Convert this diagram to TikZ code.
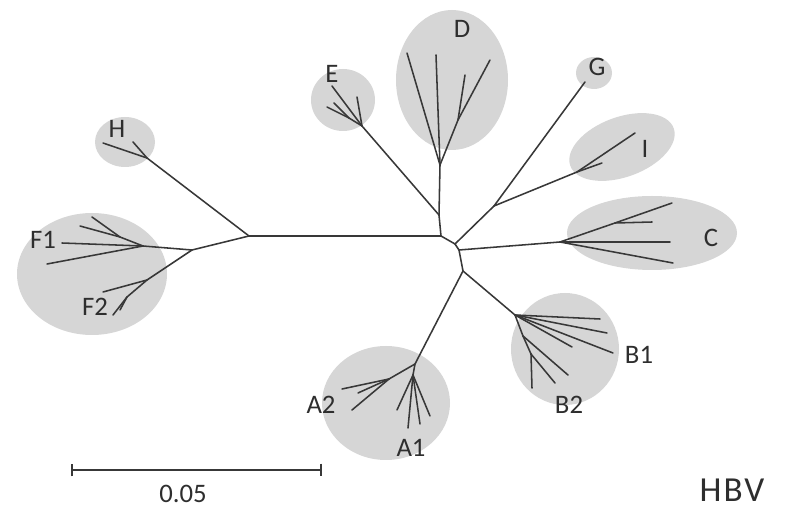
\documentclass[tikz,border=0pt]{standalone}
\usepackage{fontspec}
\setmainfont{Carlito}
\usetikzlibrary{positioning}
\usetikzlibrary{arrows.meta}

\begin{document}
\begin{tikzpicture}
			[x=0.025cm,y=-0.025cm,
			 pt/.style={coordinate},
			 clade/.style={fill=black!16},
			 connect/.style={draw=black!78,line width=1.1pt,line cap=round},
			 scalebar/.style={draw=black!78,line width=1.2pt,{Bar[width=9pt]}-{Bar[width=9pt]}},
			 tag/.style={inner sep=0pt,text=black!82,font=\fontsize{19}{19}\selectfont}]
			\useasboundingbox (0,0) rectangle (792,511);

			% shaded groups
			\fill[clade] (92,274) ellipse [x radius=75,y radius=61];
			\fill[clade] (125,142) ellipse [x radius=30,y radius=25];
			\fill[clade] (343,100) ellipse [x radius=32,y radius=31];
			\fill[clade] (452,80) ellipse [x radius=56,y radius=70];
			\fill[clade] (594,73) ellipse [x radius=18,y radius=16];
			\fill[clade,rotate around={20:(622,147)}] (622,147) ellipse [x radius=55,y radius=30];
			\fill[clade] (652,233) ellipse [x radius=85,y radius=37];
			\fill[clade] (565,349) ellipse [x radius=54,y radius=56];
			\fill[clade] (386,403) ellipse [x radius=64,y radius=57];

			% backbone
			\node[pt] (r1) at (249,236) {};
			\node[pt] (r2) at (441,236) {}
			  edge [connect] (r1);
			\node[pt] (r3) at (455,244) {}
			  edge [connect] (r2);
			\node[pt] (r4) at (459,250) {}
			  edge [connect] (r3);
			\node[pt] (r5) at (463,271) {}
			  edge [connect] (r4);

			% H
			\node[pt] (h0) at (147,158) {}
			  edge [connect] (r1);
			\node[pt] (h1) at (103,143) {}
			  edge [connect] (h0);
			\node[pt] (h2) at (133,142) {}
			  edge [connect] (h0);

			% F1, F2
			\node[pt] (f0) at (192,250) {}
			  edge [connect] (r1);
			\node[pt] (f1) at (143,246) {}
			  edge [connect] (f0);
			\node[pt] (f1a) at (62,243) {}
			  edge [connect] (f1);
			\node[pt] (f1b) at (47,264) {}
			  edge [connect] (f1);
			\node[pt] (f1c) at (120,237) {}
			  edge [connect] (f1);
			\node[pt] (f1d) at (80,226) {}
			  edge [connect] (f1c);
			\node[pt] (f1e) at (92,217) {}
			  edge [connect] (f1c);
			\node[pt] (f2) at (147,280) {}
			  edge [connect] (f0);
			\node[pt] (f2a) at (103,292) {}
			  edge [connect] (f2);
			\node[pt] (f2b) at (127,297) {}
			  edge [connect] (f2);
			\node[pt] (f2c) at (113,315) {}
			  edge [connect] (f2b);
			\node[pt] (f2d) at (120,310) {}
			  edge [connect] (f2b);

			% E, D
			\node[pt] (de) at (439,215) {}
			  edge [connect] (r2);
			\node[pt] (e0) at (362,126) {}
			  edge [connect] (de);
			\node[pt] (e1) at (332,86) {}
			  edge [connect] (e0);
			\node[pt] (e2) at (357,97) {}
			  edge [connect] (e0);
			\node[pt] (e3) at (349,118) {}
			  edge [connect] (e0);
			\node[pt] (e4) at (327,107) {}
			  edge [connect] (e3);
			\node[pt] (e5) at (334,103) {}
			  edge [connect] (e3);
			\node[pt] (d0) at (440,165) {}
			  edge [connect] (de);
			\node[pt] (d1) at (407,53) {}
			  edge [connect] (d0);
			\node[pt] (d2) at (436,55) {}
			  edge [connect] (d0);
			\node[pt] (d3) at (458,120) {}
			  edge [connect] (d0);
			\node[pt] (d4) at (490,60) {}
			  edge [connect] (d3);
			\node[pt] (d5) at (465,75) {}
			  edge [connect] (d3);

			% G, I
			\node[pt] (gi) at (494,206) {}
			  edge [connect] (r3);
			\node[pt] (g1) at (585,82) {}
			  edge [connect] (gi);
			\node[pt] (i0) at (577,172) {}
			  edge [connect] (gi);
			\node[pt] (i1) at (635,133) {}
			  edge [connect] (i0);
			\node[pt] (i2) at (602,163) {}
			  edge [connect] (i0);

			% C
			\node[pt] (c0) at (560,242) {}
			  edge [connect] (r4);
			\node[pt] (c1) at (615,223) {}
			  edge [connect] (c0);
			\node[pt] (c2) at (672,203) {}
			  edge [connect] (c1);
			\node[pt] (c3) at (652,222) {}
			  edge [connect] (c1);
			\node[pt] (c4) at (670,242) {}
			  edge [connect] (c0);
			\node[pt] (c5) at (673,263) {}
			  edge [connect] (c0);

			% B1, B2
			\node[pt] (b0) at (515,315) {}
			  edge [connect] (r5);
			\node[pt] (b1a) at (600,319) {}
			  edge [connect] (b0);
			\node[pt] (b1b) at (607,333) {}
			  edge [connect] (b0);
			\node[pt] (b1c) at (572,347) {}
			  edge [connect] (b0);
			\node[pt] (b1d) at (613,353) {}
			  edge [connect] (b0);
			\node[pt] (b2) at (523,336) {}
			  edge [connect] (b0);
			\node[pt] (b2a) at (568,375) {}
			  edge [connect] (b2);
			\node[pt] (b2b) at (531,354) {}
			  edge [connect] (b2);
			\node[pt] (b2c) at (532,388) {}
			  edge [connect] (b2b);
			\node[pt] (b2d) at (555,383) {}
			  edge [connect] (b2b);

			% A1, A2
			\node[pt] (a0) at (415,364) {}
			  edge [connect] (r5);
			\node[pt] (a2) at (389,379) {}
			  edge [connect] (a0);
			\node[pt] (a2a) at (342,389) {}
			  edge [connect] (a2);
			\node[pt] (a2b) at (352,410) {}
			  edge [connect] (a2);
			\node[pt] (a2c) at (358,393) {}
			  edge [connect] (a2);
			\node[pt] (a1) at (413,375) {}
			  edge [connect] (a0);
			\node[pt] (a1a) at (408,428) {}
			  edge [connect] (a1);
			\node[pt] (a1b) at (397,410) {}
			  edge [connect] (a1);
			\node[pt] (a1c) at (420,424) {}
			  edge [connect] (a1);
			\node[pt] (a1d) at (430,416) {}
			  edge [connect] (a1);

			% labels
			\node[tag] (lh) at (117,129) {H};
			\node[tag] (lf1) at (43,240) {F1};
			\node[tag] (lf2) at (95,307) {F2};
			\node[tag] (le) at (332,74) {E};
			\node[tag] (ld) at (462,29) {D};
			\node[tag] (lg) at (597,67) {G};
			\node[tag] (li) at (645,149) {I};
			\node[tag] (lc) at (711,238) {C};
			\node[tag] (lb1) at (639,355) {B1};
			\node[tag] (lb2) at (569,405) {B2};
			\node[tag] (la2) at (321,405) {A2};
			\node[tag] (la1) at (411,448) {A1};

			% scale
			\node[pt] (s1) at (71,470) {};
			\node[pt] (s2) at (322,470) {}
			  edge [scalebar] (s1);
			\node[tag] (ls) at (183,494) {0.05};
			\node[tag,font=\fontsize{25}{25}\selectfont\addfontfeature{LetterSpace=6}] (lv) at (732,490) {HBV};
	  \end{tikzpicture}
\end{document}
